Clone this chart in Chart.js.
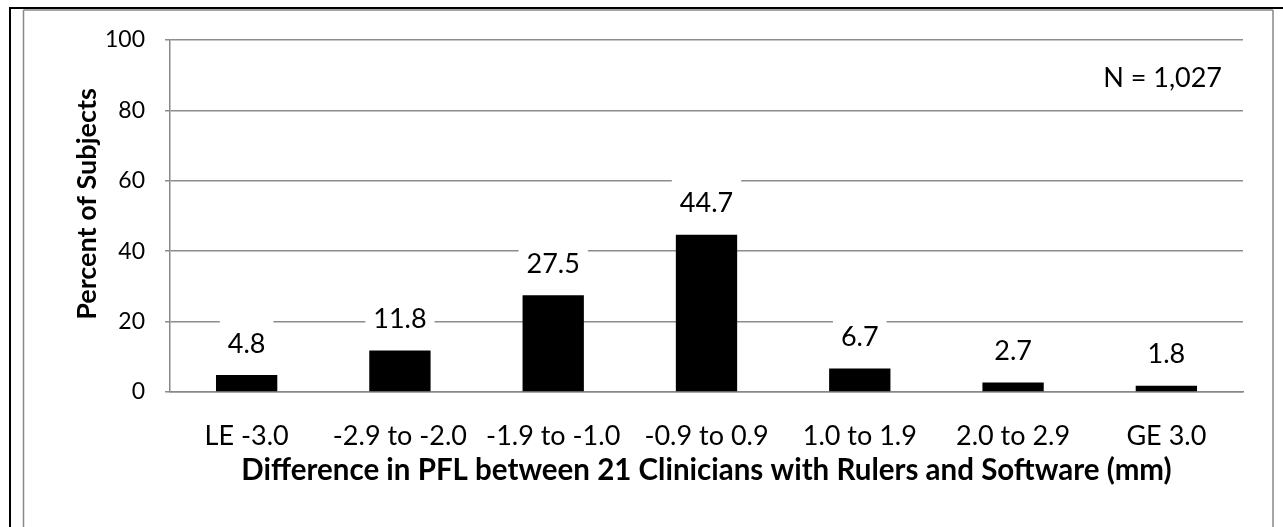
<!DOCTYPE html>
<html>
<head>
<meta charset="utf-8">
<script src="https://cdn.jsdelivr.net/npm/chart.js@4/dist/chart.umd.min.js"></script>
<style>
  html, body { margin: 0; padding: 0; background: #fff; }
  #wrap { width: 1283px; height: 527px; position: relative; }
</style>
</head>
<body>
<div id="wrap"><canvas id="pflChart"></canvas></div>
<script>
// Datos del gráfico
const categorias = ['LE -3.0', '-2.9 to -2.0', '-1.9 to -1.0', '-0.9 to 0.9', '1.0 to 1.9', '2.0 to 2.9', 'GE 3.0'];
const porcentajes = [4.8, 11.8, 27.5, 44.7, 6.7, 2.7, 1.8];
const ticksY = [0, 20, 40, 60, 80, 100];
const tituloX = 'Difference in PFL between 21 Clinicians with Rulers and Software (mm)';
const tituloY = 'Percent of Subjects';
const notaN = 'N = 1,027';

const fuente = 'Lato, "Open Sans", sans-serif';

// Marco exterior, título del eje Y y nota N
const marcoPlugin = {
    id: 'marco',
    afterDraw(chart) {
        const ctx = chart.ctx;
        ctx.save();
        ctx.strokeStyle = '#000';
        ctx.lineWidth = 2;
        ctx.beginPath();
        ctx.moveTo(9, 8); ctx.lineTo(1283, 8);
        ctx.moveTo(10, 8); ctx.lineTo(10, 527);
        ctx.stroke();
        ctx.strokeStyle = '#888';
        ctx.lineWidth = 1.5;
        ctx.beginPath();
        ctx.moveTo(23.5, 10); ctx.lineTo(1273, 10);
        ctx.moveTo(23.5, 10); ctx.lineTo(23.5, 527);
        ctx.moveTo(1273, 10); ctx.lineTo(1273, 527);
        ctx.stroke();

        ctx.fillStyle = '#000';
        ctx.font = '27px ' + fuente;
        ctx.textAlign = 'right';
        ctx.textBaseline = 'middle';
        ctx.fillText(notaN, chart.chartArea.right - 21, 78);

        // título Y un poco más arriba que el centro del área
        ctx.translate(87, 204);
        ctx.rotate(-Math.PI / 2);
        ctx.textAlign = 'center';
        ctx.font = 'bold 27px ' + fuente;
        ctx.fillText(tituloY, 0, 0);
        ctx.restore();
    }
};

// Etiquetas de datos con fondo blanco
const etiquetasPlugin = {
    id: 'etiquetas',
    afterDatasetsDraw(chart) {
        const ctx = chart.ctx;
        const meta = chart.getDatasetMeta(0);
        ctx.save();
        ctx.font = '27px ' + fuente;
        ctx.textAlign = 'center';
        ctx.textBaseline = 'middle';
        meta.data.forEach((bar, i) => {
            const texto = porcentajes[i].toFixed(1);
            const w = ctx.measureText(texto).width + 16;
            const cy = bar.y - 31;
            ctx.fillStyle = '#fff';
            ctx.fillRect(bar.x - w / 2, cy - 27, w, 54);
            ctx.fillStyle = '#000';
            ctx.fillText(texto, bar.x, cy);
        });
        ctx.restore();
    }
};

new Chart(document.getElementById('pflChart'), {
    type: 'bar',
    data: {
        labels: categorias,
        datasets: [{
            data: porcentajes,
            backgroundColor: '#000',
            borderWidth: 0,
            barPercentage: 0.4,
            categoryPercentage: 1.0
        }]
    },
    options: {
        responsive: true,
        maintainAspectRatio: false,
        animation: false,
        layout: { padding: { top: 40, right: 40, left: 0, bottom: 0 } },
        plugins: {
            legend: { display: false },
            tooltip: { enabled: false }
        },
        scales: {
            x: {
                grid: { display: false, drawTicks: false },
                border: { display: true, color: '#888', width: 1.5 },
                ticks: {
                    color: '#000',
                    font: { family: fuente, size: 27 },
                    padding: 28,
                    maxRotation: 0,
                    autoSkip: false
                },
                title: {
                    display: true,
                    text: tituloX,
                    color: '#000',
                    font: { family: fuente, size: 29.5, weight: 'bold' },
                    padding: { top: 0, bottom: 39 }
                },
                afterFit(scale) { scale.height = 135; }
            },
            y: {
                min: 0,
                max: 100,
                afterBuildTicks(scale) {
                    scale.ticks = ticksY.map(v => ({ value: v }));
                },
                ticks: {
                    color: '#000',
                    font: { family: fuente, size: 23 },
                    padding: 20
                },
                grid: { color: '#8c8c8c', lineWidth: 1.5, tickLength: 5 },
                border: { display: true, color: '#888', width: 1.5 },
                title: { display: false },
                afterFit(scale) { scale.width = 170; }
            }
        }
    },
    plugins: [marcoPlugin, etiquetasPlugin]
});
</script>
</body>
</html>
